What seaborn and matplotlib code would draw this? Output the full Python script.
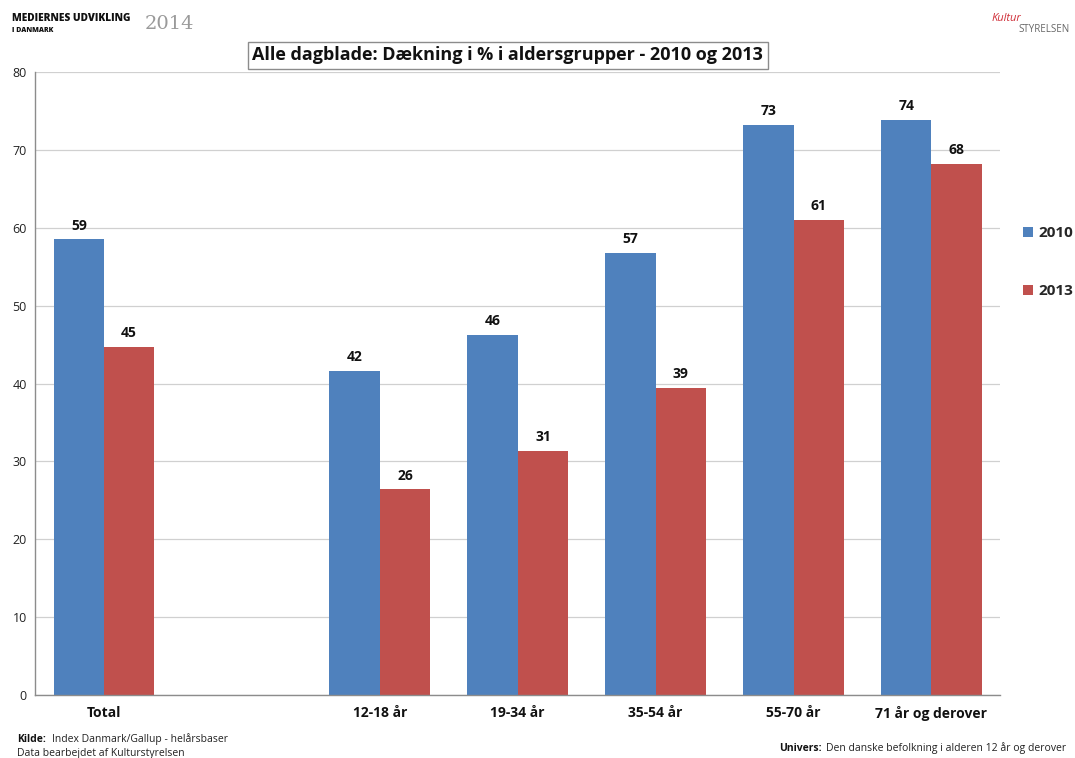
import numpy as np
import pandas as pd
import matplotlib
matplotlib.use("Agg")
import matplotlib.pyplot as plt
import seaborn as sns
from matplotlib.patches import Patch

categories = ["Total", " ", "12-18 år", "19-34 år", "35-54 år", "55-70 år", "71 år og derover"]
data_categories = ["Total", "12-18 år", "19-34 år", "35-54 år", "55-70 år", "71 år og derover"]
values_2010 = [58.5, 41.6, 46.2, 56.8, 73.2, 73.8]
values_2013 = [44.7, 26.4, 31.3, 39.4, 61.0, 68.2]
labels_2010 = ["59", "42", "46", "57", "73", "74"]
labels_2013 = ["45", "26", "31", "39", "61", "68"]
series = ["2010", "2013"]
colors = ["#4F81BD", "#C0504D"]

df = pd.DataFrame({
    "kategori": data_categories * 2,
    "år": ["2010"] * len(data_categories) + ["2013"] * len(data_categories),
    "værdi": values_2010 + values_2013,
    "label": labels_2010 + labels_2013,
})

sns.set_theme(style="white")
plt.rcParams["font.family"] = ["Open Sans", "DejaVu Sans"]

fig = plt.figure(figsize=(10.75, 7.58), dpi=100)
ax = fig.add_axes([0.0326, 0.083, 0.898, 0.822])

sns.barplot(data=df, x="kategori", y="værdi", hue="år", order=categories,
            hue_order=series, palette=colors, width=0.73, saturation=1,
            ax=ax, legend=False, errorbar=None, linewidth=0)

for cont, labs in zip(ax.containers, [labels_2010, labels_2013]):
    ax.bar_label(cont, labels=labs, padding=5, fontsize=10, fontweight="bold", color="#111111")

ax.set_ylim(0, 80)
ax.set_yticks(np.arange(0, 81, 10))
ax.set_xlim(-0.5, len(categories) - 0.5)
ax.yaxis.grid(True, color="#D0D0D0", linewidth=0.9)
ax.set_axisbelow(True)
ax.set_xlabel("")
ax.set_ylabel("")
for s in ["top", "right"]:
    ax.spines[s].set_visible(False)
for s in ["left", "bottom"]:
    ax.spines[s].set_color("#8C8C8C")
    ax.spines[s].set_linewidth(1)
ax.tick_params(axis="y", labelsize=9, colors="#222222", length=0, pad=6)
ax.tick_params(axis="x", labelsize=10, colors="#111111", length=0, pad=8)
for t in ax.get_xticklabels():
    t.set_fontweight("bold")

handles = [Patch(facecolor=c, edgecolor="none") for c in colors]
fig.legend(handles, series, loc="center left", bbox_to_anchor=(0.952, 0.654),
           frameon=False, handlelength=0.6, handleheight=0.6, handletextpad=0.4,
           labelspacing=2.9, borderpad=0, borderaxespad=0,
           prop={"weight": "bold", "size": 11})

fig.text(0.4725, 0.927, "Alle dagblade: Dækning i % i aldersgrupper - 2010 og 2013",
         ha="center", va="center", fontsize=13, fontweight="bold", color="#111111",
         bbox=dict(boxstyle="square,pad=0.25", facecolor="white", edgecolor="#8C8C8C", linewidth=1))

# header
fig.text(0.011, 0.975, "MEDIERNES UDVIKLING", fontsize=7.3, fontweight="heavy", color="#111111", va="center")
fig.text(0.011, 0.960, "I DANMARK", fontsize=5, fontweight="heavy", color="#111111", va="center")
fig.text(0.135, 0.968, "2014", fontsize=14, color="#9A9A9A", family="DejaVu Serif", va="center")
fig.text(0.922, 0.975, "Kultur", fontsize=8, color="#D0303A", style="italic", va="center")
fig.text(0.947, 0.961, "STYRELSEN", fontsize=7, color="#666666", va="center")

# footer
fig.text(0.016, 0.025, "Kilde:", fontsize=7.5, fontweight="bold", color="#111111", va="center")
fig.text(0.048, 0.025, "Index Danmark/Gallup - helårsbaser", fontsize=7.5, color="#222222", va="center")
fig.text(0.016, 0.006, "Data bearbejdet af Kulturstyrelsen", fontsize=7.5, color="#222222", va="center")
fig.text(0.725, 0.013, "Univers:", fontsize=7.5, fontweight="bold", color="#111111", va="center")
fig.text(0.768, 0.013, "Den danske befolkning i alderen 12 år og derover", fontsize=7.5, color="#222222", va="center")

fig.savefig("out.png", dpi=100, facecolor="white")
